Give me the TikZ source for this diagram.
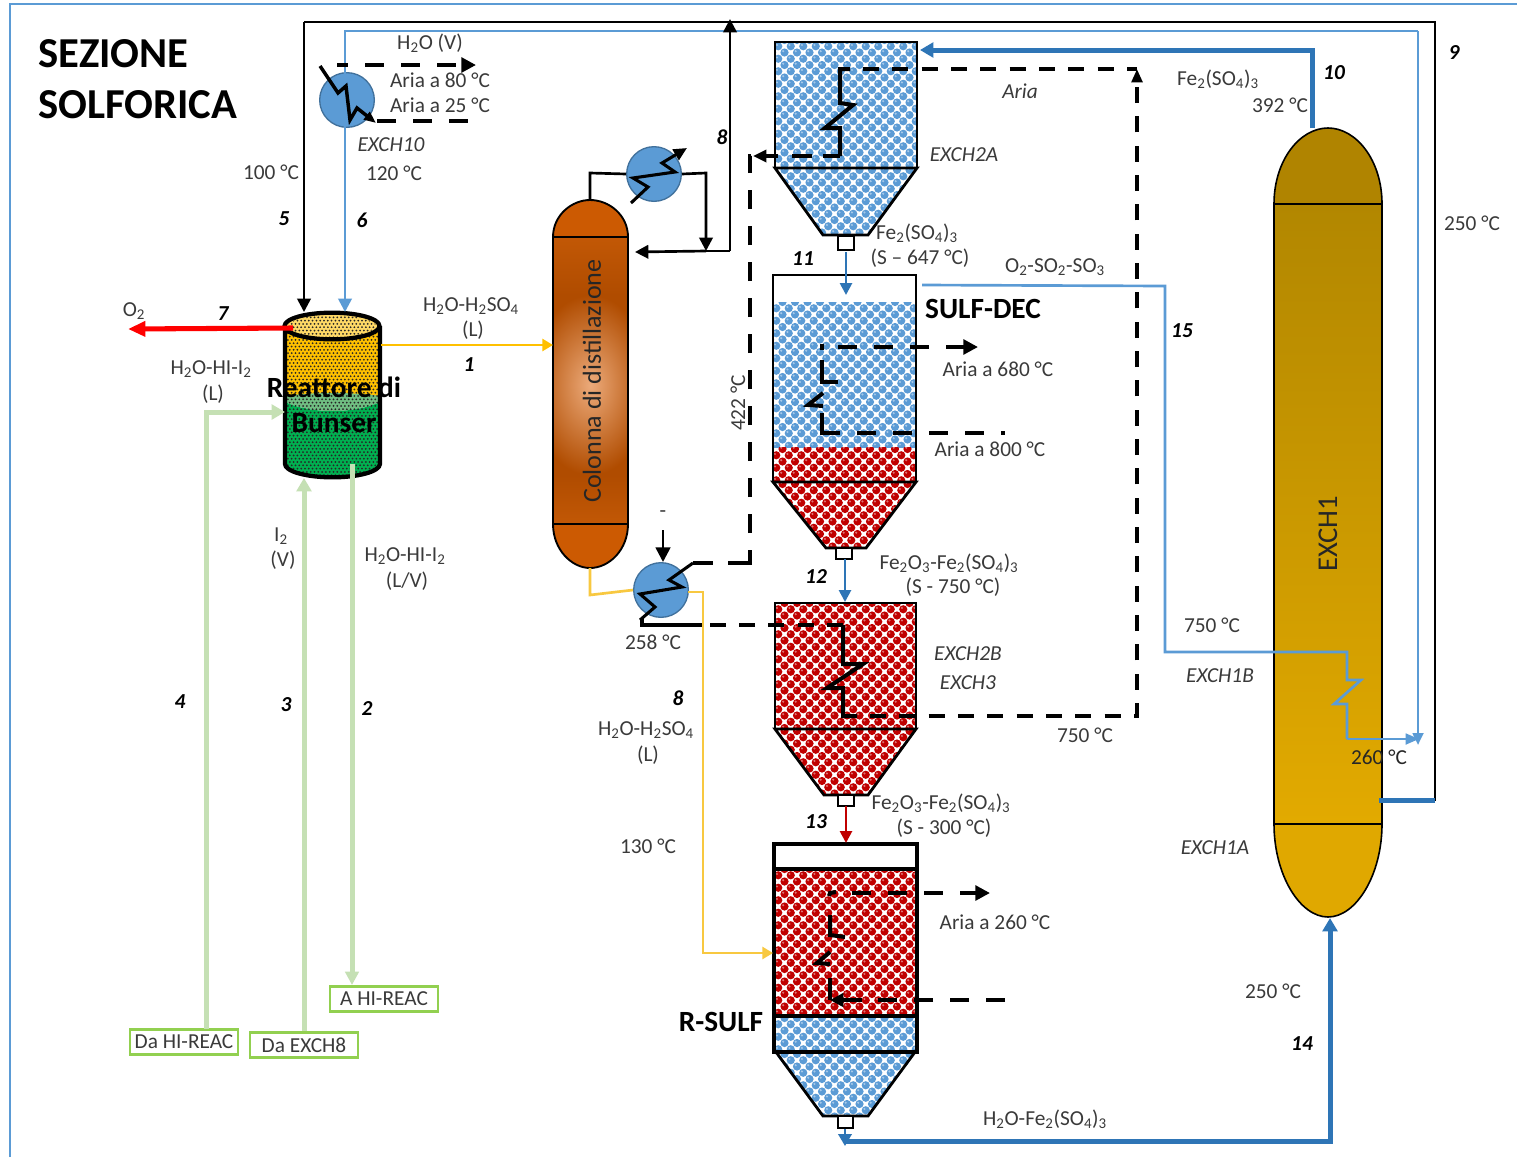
\documentclass[tikz,border=0pt]{standalone}
\usepackage{fontspec}
\setmainfont{Carlito}
\usetikzlibrary{arrows.meta,calc}
\definecolor{bub}{HTML}{5B9BD5}
\definecolor{bubdark}{HTML}{2E75B6}
\definecolor{bubred}{HTML}{C00000}
\definecolor{hxedge}{HTML}{41719C}
\definecolor{txt}{HTML}{3A3A3A}
\definecolor{lgreen}{HTML}{C5E0B4}
\definecolor{bgreen}{HTML}{92D050}
\definecolor{ygold}{HTML}{FFC000}
\definecolor{ysoft}{HTML}{F8C840}
\definecolor{exA}{RGB}{176,132,0}
\definecolor{exB}{RGB}{178,135,0}
\definecolor{exC}{RGB}{226,170,0}
\definecolor{exD}{RGB}{224,168,0}
\definecolor{colA}{RGB}{204,90,2}
\definecolor{colB}{RGB}{194,88,6}
\definecolor{colC}{RGB}{236,170,122}
\definecolor{colD}{RGB}{176,76,0}
\definecolor{gband}{RGB}{112,190,130}
\definecolor{gmain}{RGB}{0,176,80}
\definecolor{ytop}{RGB}{255,217,102}
\newcommand\sbs[1]{\textsubscript{#1}}
% bubble pattern: {clip path}{x0}{y0}{x1}{y1}{colour}
\newcommand\bubblefill[6]{%
  \begin{scope}
    \clip #1;
    \fill[white] (#2,#3) rectangle (#4,#5);
    \foreach \r in {0,...,40}{
      \pgfmathsetmacro\yy{#3+\r*6.25}
      \pgfmathsetmacro\off{mod(\r,2)*6.25}
      \ifdim\yy pt<#5 pt\relax
      \foreach \c in {0,...,15}{
        \pgfmathsetmacro\xx{#2+\c*12.5+\off}
        \ifdim\xx pt<#4 pt\relax
        \fill[#6] (\xx,\yy) circle (4.1);
        \fill[#6!55!white] (\xx-1.3,\yy-1.3) circle (1.2);
        \fi
      }
      \fi
    }
  \end{scope}}
% black dots
\newcommand\blackdots[5]{%
  \begin{scope}
    \clip #1;
    \foreach \r in {0,...,50}{
      \pgfmathsetmacro\yy{#3+\r*3.3}
      \pgfmathsetmacro\off{mod(\r,2)*1.9}
      \ifdim\yy pt<#5 pt\relax
      \foreach \c in {0,...,28}{
        \pgfmathsetmacro\xx{#2+\c*3.8+\off}
        \fill[black!85] (\xx,\yy) circle (1);
      }
      \fi
    }
  \end{scope}}
\tikzset{
  x=.75pt,y=-.75pt,
  lbl/.style={text=txt,font=\fontsize{16}{18}\selectfont,inner sep=0pt,align=center},
  itl/.style={lbl,font=\fontsize{16}{18}\selectfont\itshape},
  num/.style={text=black,inner sep=0pt,font=\fontsize{16}{18}\selectfont\bfseries\itshape},
  head/.style={text=black,inner sep=0pt,font=\fontsize{22}{24}\selectfont\bfseries},
  title/.style={text=black,inner sep=0pt,anchor=west,font=\fontsize{32}{34}\selectfont\bfseries},
  vessel/.style={draw=black,line width=2.1pt,line join=miter},
  vesselthick/.style={draw=black,line width=3.6pt,line join=miter},
  outlet/.style={draw=black,fill=white,line width=1.9pt},
  hx/.style={circle,draw=hxedge,line width=1pt,fill=bub,minimum size=41pt,inner sep=0pt},
  blackline/.style={draw=black,line width=2pt,-{Triangle[length=10pt,width=10pt]}},
  blackplain/.style={draw=black,line width=2pt},
  airline/.style={draw=black,line width=3pt,dash pattern=on 14.5pt off 12.5pt},
  airshort/.style={draw=black,line width=3pt,dash pattern=on 12pt off 10pt},
  coil/.style={draw=black,line width=3pt,line join=miter},
  coilthin/.style={draw=black,line width=2.3pt,line join=miter},
  lightblue/.style={draw=bub,line width=2pt},
  boldblue/.style={draw=bubdark,line width=3.75pt},
  midblue/.style={draw=bubdark,line width=2pt},
  greenline/.style={draw=lgreen,line width=3.75pt},
  greenbox/.style={draw=bgreen,line width=1.8pt,fill=white,text=txt,minimum width=81pt,minimum height=19pt,inner sep=0pt,font=\fontsize{16}{18}\selectfont},
}
\begin{document}
\begin{tikzpicture}
\useasboundingbox (0,0) rectangle (1517,1157);
\fill[white] (0,0) rectangle (1517,1157);
% outer frame
\draw[draw=bub,line width=1.6pt] (10,1157) -- (10,4) -- (1517,4);

% ---- named ports ----
\coordinate (reacT5) at (304,312);
\coordinate (reacT6) at (345,312);
\coordinate (top5) at (304,22);
\coordinate (top9) at (1435,22);
\coordinate (out9) at (1379,800);
\coordinate (top6) at (345,31);
\coordinate (top9b) at (1418,31);
\coordinate (end15) at (1419,739);

% ---- EXCH1 ----
\fill[exA] (1274,204) .. controls (1274,160) and (1300,128) .. (1328,128) .. controls (1356,128) and (1382,160) .. (1382,204) -- cycle;
\shade[top color=exB,bottom color=exC] (1274,204) rectangle (1382,824);
\fill[exD] (1274,824) .. controls (1274,875) and (1300,917) .. (1328,917) .. controls (1356,917) and (1382,875) .. (1382,824) -- cycle;
\draw[black,line width=1.2pt] (1274,204) .. controls (1274,160) and (1300,128) .. (1328,128) .. controls (1356,128) and (1382,160) .. (1382,204) -- (1382,824) .. controls (1382,875) and (1356,917) .. (1328,917) .. controls (1300,917) and (1274,875) .. (1274,824) -- cycle;
\draw[black,line width=1.2pt] (1274,204) -- (1382,204) (1274,824) -- (1382,824);
\node[rotate=90,text=black!85,inner sep=0pt,font=\fontsize{21.5}{24}\selectfont] (exch1lab) at (1328,534) {EXCH1};

% ---- Column ----
\fill[colA] (553,237) .. controls (553,215) and (572,200) .. (590,200) .. controls (609,200) and (628,215) .. (628,237) -- cycle;
\fill[colD] (553,290) rectangle (628,480);
\shade[top color=colB,bottom color=colD] (553,237) rectangle (628,295);
\begin{scope}
  \clip (553,295) rectangle (628,475);
  \shade[inner color=colC,outer color=colD] (530,295) rectangle (651,475);
\end{scope}
\shade[top color=colD,bottom color=colB] (553,475) rectangle (628,524);
\fill[colA] (553,524) .. controls (553,550) and (572,568) .. (590,568) .. controls (609,568) and (628,550) .. (628,524) -- cycle;
\draw[black,line width=1.4pt] (553,237) .. controls (553,215) and (572,200) .. (590,200) .. controls (609,200) and (628,215) .. (628,237) -- (628,524) .. controls (628,550) and (609,568) .. (590,568) .. controls (572,568) and (553,550) .. (553,524) -- cycle;
\draw[black,line width=1.2pt] (553,237) -- (628,237) (553,524) -- (628,524);
\node[rotate=90,text=black!85,inner sep=0pt,font=\fontsize{19.5}{22}\selectfont] (collab) at (592,381) {Colonna di distillazione};

% ---- Bunsen reactor ----
\fill[ygold] (285,326) rectangle (380,400);
\fill[gband] (285,396) .. controls (310,392) and (355,392) .. (380,396) -- (380,402) .. controls (355,414) and (310,414) .. (285,402) -- cycle;
\fill[gmain] (285,402) .. controls (310,414) and (355,414) .. (380,402) -- (380,464) -- (285,464) -- cycle;
\fill[gmain] (332,464) ellipse [x radius=35.6pt,y radius=10pt];
\blackdots{(285,326) -- (285,464) arc [start angle=180,end angle=360,x radius=35.6pt,y radius=10pt] -- (380,326) -- cycle}{286}{330}{380}{476}
\fill[ytop] (332,326) ellipse [x radius=35.6pt,y radius=9.5pt];
\blackdots{(332,326) ellipse [x radius=33pt,y radius=8pt]}{286}{314}{380}{340}
\draw[black,line width=3.2pt] (285,326) -- (285,464) arc [start angle=180,end angle=360,x radius=35.6pt,y radius=10pt] -- (380,326);
\draw[black,line width=3.2pt] (332,326) ellipse [x radius=35.6pt,y radius=10pt];

% ---- EXCH2A ----
\bubblefill{(775,42) rectangle (917,168)}{772}{40}{920}{170}{bub}
\bubblefill{(775,168) -- (917,168) -- (868,235) -- (823,235) -- cycle}{772}{170}{920}{240}{bub}
\path[vessel] (775,42) rectangle (917,168);
\path[vessel] (775,168) -- (917,168) -- (868,235) -- (823,235) -- cycle;
\path[outlet] (838,236) rectangle (854,250);
% ---- SULF-DEC ----
\bubblefill{(773,302) rectangle (916,447)}{770}{302}{920}{447}{bub}
\bubblefill{(773,447) rectangle (916,482)}{770}{449}{920}{482}{bubred}
\bubblefill{(773,482) -- (916,482) -- (866,548) -- (826,548) -- cycle}{770}{484}{920}{550}{bubred}
\path[vessel] (773,275) rectangle (916,482);
\path[vessel] (773,482) -- (916,482) -- (866,548) -- (826,548) -- cycle;
\path[outlet] (836,548) rectangle (852,559);
% ---- EXCH2B ----
\bubblefill{(775,603) rectangle (916,729)}{772}{603}{920}{729}{bubred}
\bubblefill{(775,729) -- (916,729) -- (868,795) -- (824,795) -- cycle}{772}{731}{920}{798}{bubred}
\path[vessel] (775,603) rectangle (916,729);
\path[vessel] (775,729) -- (916,729) -- (868,795) -- (824,795) -- cycle;
\path[outlet] (838,795) rectangle (854,806);
% ---- R-SULF ----
\bubblefill{(774,869) rectangle (917,1016)}{772}{869}{920}{1016}{bubred}
\bubblefill{(774,1016) rectangle (917,1052)}{772}{1018}{920}{1052}{bub}
\bubblefill{(774,1052) -- (917,1052) -- (868,1116) -- (823,1116) -- cycle}{772}{1054}{920}{1120}{bub}
\path[vesselthick] (774,844) rectangle (917,1052);
\draw[black,line width=3pt] (774,869) -- (917,869);
\draw[black,line width=3pt] (774,1016) -- (917,1016);
\path[vessel] (776,1052) -- (915,1052) -- (868,1116) -- (823,1116) -- cycle;
\path[outlet] (838,1116) rectangle (853,1128);

% ---- Heat exchangers ----
\node[hx] (hx10) at (347,100) {};
\node[hx] (hxtop) at (654,174) {};
\node[hx] (hxbot) at (661,590) {};

% ---- Black utility lines 5, 9 ----
\draw[blackplain] (out9) -- (out9 -| top9) -- (top9) -- (top5);
\draw[blackline] (top5) -- (reacT5);
\draw[boldblue] (out9) -- (out9 -| top9);
% ---- Blue line 6 ----
\draw[lightblue,-{Triangle[length=10pt,width=10pt]}] (top9b) -- (top6) -- (reacT6);
\draw[lightblue,-{Triangle[length=9pt,width=8pt]}] (top9b) -- (1418,745);

% ---- column overhead 8 ----
\coordinate (junc8) at (730,251);
\draw[blackplain] (590,200) -- (590,173) -- (hxtop.west);
\draw[blackline] (hxtop.east) -- (706,173) -- (706,251);
\draw[blackline] (706,251) -- (635,252);
\draw[blackplain] (706,251) -- (junc8);
\draw[blackline] (junc8) -- (730,19);
\draw[coilthin,-{Triangle[length=10pt,width=9pt]}] (631,203) -- (648,187) -- (633,178) -- (675,172) -- (662,163) -- (687,148);

% ---- EXCH10 ----
\draw[airline,dash phase=6pt,-{Triangle[length=11pt,width=11pt]}] (337,65) -- (476,65);
\draw[airline] (377,121) -- (470,121);
\draw[coil,line width=2.6pt,-{Triangle[length=9pt,width=7pt]}] (320,66) -- (338,93) -- (346,86) -- (350,120) -- (357,108) -- (376,123);

% ---- bottom exchanger and air loop ----
\draw[blackline,-{Triangle[length=11pt,width=11pt]}] (663,530) -- (663,562);
\draw[coilthin] (693,563) -- (669,580) -- (682,587) -- (640,594) -- (655,607) -- (640,620);
\draw[coil] (693,563) -- (713,563);
\draw[coil] (728,563) -- (750,563) -- (750,550);
\draw[airline] (750,533) -- (750,156) -- (751,156);
\draw[coil] (840,156) -- (823,156);
\draw[coil] (812,156) -- (792,156);
\draw[coil,-{Triangle[length=10pt,width=9pt]}] (778,156) -- (753,156);
\draw[coil] (840,156) -- (840,128) -- (825,128) -- (853,105) -- (840,103) -- (840,69) -- (850,69);
\draw[airshort] (863,69) -- (1137,69);
\draw[airshort,-{Triangle[length=10pt,width=8pt]}] (870,716) -- (1137,716) -- (1137,69);
\draw[airshort] (843,625) -- (703,625);
\draw[coil] (642,618) -- (642,625) -- (703,625);
\draw[coil] (843,625) -- (843,664) -- (863,664) -- (827,688) -- (843,688) -- (843,716) -- (857,716);

% ---- SULF-DEC coil ----
\draw[coil] (822,344) -- (822,350);
\draw[airline,-{Triangle[length=11pt,width=11pt]}] (838,347) -- (978,347);
\draw[coil] (822,360) -- (822,382) -- (838,382);
\draw[coil] (823,393) -- (808,405) -- (823,406);
\draw[coil] (822,413) -- (822,433) -- (840,433);
\draw[airline] (857,433) -- (1005,433);

% ---- R-SULF coil ----
\draw[coil] (829,896) -- (830,893) -- (836,892);
\draw[airline,-{Triangle[length=11pt,width=11pt]}] (852,893) -- (990,893);
\draw[coil] (830,915) -- (830,935) -- (845,937);
\draw[coil] (830,952) -- (817,963) -- (830,964);
\draw[coil] (830,978) -- (830,1000);
\draw[coil,-{Triangle[length=10pt,width=10pt]}] (862,1000) -- (830,1000);
\draw[airline] (1005,1000) -- (877,1000);

% ---- solids lines ----
\draw[midblue,-{Triangle[length=9pt,width=9pt]}] (846,252) -- (846,295);
\draw[midblue,-{Triangle[length=9pt,width=9pt]}] (845,559) -- (845,602);
\draw[draw=bubred,line width=2pt,-{Triangle[length=9pt,width=9pt]}] (846,806) -- (846,843);
\draw[boldblue,-{Triangle[length=10pt,width=11pt]}] (1312,128) -- (1312,50) -- (920,50);
\draw[boldblue,-{Triangle[length=10pt,width=11pt]}] (845,1141) -- (1330,1141) -- (1330,918);
\draw[midblue,-{Triangle[length=9pt,width=10pt]}] (845,1129) -- (845,1146);

% ---- 15 ----
\draw[lightblue,line join=miter] (922,285) -- (1165,286) -- (1165,652) -- (1347,652) -- (1347,680) -- (1361,680) -- (1334,704) -- (1347,704) -- (1347,739);
\draw[lightblue,-{Triangle[length=10pt,width=8pt]}] (1347,739) -- (end15);

% ---- yellow ----
\draw[draw=ygold,line width=2pt,-{Triangle[length=8pt,width=9pt]}] (381,345) -- (553,345);
\draw[draw=ysoft,line width=2pt] (590,568) -- (590,595) -- (hxbot.west);
\draw[draw=ysoft,line width=2pt,-{Triangle[length=8pt,width=9pt]}] (688,592) -- (703,592) -- (703,953) -- (773,953);

% ---- red 7 ----
\draw[draw=red,line width=3.8pt,-{Triangle[length=13pt,width=11pt]}] (293,328) -- (128,329);

% ---- green ----
\node[greenbox] (daHI) at (184,1042) {Da HI-REAC};
\node[greenbox] (daEX) at (304,1045) {Da EXCH8};
\node[greenbox] (aHI) at (384,999) {A HI-REAC};
\draw[greenline,-{Triangle[length=10pt,width=11pt]}] (206,1029) -- (206,412) -- (285,412);
\draw[greenline,-{Triangle[length=10pt,width=11pt]}] (daEX.north) -- (304,478);
\draw[greenline,-{Triangle[length=10pt,width=10pt]}] (352,464) -- (352,985);

% ---- Text ----
\node[title] (t1) at (38,54) {SEZIONE};
\node[title] (t2) at (38,105) {SOLFORICA};
\node[lbl] (l1) at (430,43) {H\sbs{2}O (V)};
\node[lbl] (l2) at (440,80) {Aria a 80 °C};
\node[lbl] (l3) at (440,105) {Aria a 25 °C};
\node[itl] (l4) at (391,145) {EXCH10};
\node[lbl] (l5) at (394,173) {120 °C};
\node[lbl] (l6) at (271,172) {100 °C};
\node[num] (n5) at (284,219) {5};
\node[num] (n6) at (362,220) {6};
\node[num] (n8a) at (722,137) {8};
\node[lbl] (l7) at (134,311) {O\sbs{2}};
\node[num] (n7) at (223,314) {7};
\node[lbl] (l8) at (211,369) {H\sbs{2}O-HI-I\sbs{2}};
\node[lbl] (l9) at (213,394) {(L)};
\node[head] (r1) at (334,387) {Reattore di};
\node[head] (r2) at (334,423) {Bunser};
\node[lbl] (l10) at (471,306) {H\sbs{2}O-H\sbs{2}SO\sbs{4}};
\node[lbl] (l11) at (473,330) {(L)};
\node[num] (n1) at (469,365) {1};
\node[lbl] (l12) at (281,536) {I\sbs{2}};
\node[lbl] (l13) at (283,560) {(V)};
\node[lbl] (l14) at (405,556) {H\sbs{2}O-HI-I\sbs{2}};
\node[lbl] (l15) at (407,581) {(L/V)};
\node[num] (n4) at (180,702) {4};
\node[num] (n3) at (286,705) {3};
\node[num] (n2) at (367,708) {2};
\node[itl] (l16) at (1020,91) {Aria};
\node[lbl] (l17) at (1218,79) {Fe\sbs{2}(SO\sbs{4})\sbs{3}};
\node[lbl] (l18) at (1280,105) {392 °C};
\node[num] (n10) at (1334,73) {10};
\node[num] (n9) at (1454,53) {9};
\node[lbl] (l19) at (1472,223) {250 °C};
\node[itl] (l20) at (964,155) {EXCH2A};
\node[lbl] (l21) at (917,233) {Fe\sbs{2}(SO\sbs{4})\sbs{3}};
\node[lbl] (l22) at (920,258) {(S – 647 °C)};
\node[num] (n11) at (803,259) {11};
\node[lbl] (l23) at (1055,267) {O\sbs{2}-SO\sbs{2}-SO\sbs{3}};
\node[head] (h1) at (983,309) {SULF-DEC};
\node[num] (n15) at (1182,331) {15};
\node[lbl] (l24) at (998,369) {Aria a 680 °C};
\node[lbl] (l25) at (990,449) {Aria a 800 °C};
\node[lbl,rotate=90] (l26) at (738,403) {422 °C};
\node[lbl] (l27) at (663,514) {-};
\node[lbl] (l28) at (949,563) {Fe\sbs{2}O\sbs{3}-Fe\sbs{2}(SO\sbs{4})\sbs{3}};
\node[lbl] (l29) at (953,587) {(S - 750 °C)};
\node[num] (n12) at (816,577) {12};
\node[lbl] (l30) at (1212,625) {750 °C};
\node[itl] (l31) at (1220,676) {EXCH1B};
\node[lbl] (l32) at (653,642) {258 °C};
\node[itl] (l33) at (968,654) {EXCH2B};
\node[itl] (l34) at (968,683) {EXCH3};
\node[num] (n8b) at (678,698) {8};
\node[lbl] (l35) at (646,730) {H\sbs{2}O-H\sbs{2}SO\sbs{4}};
\node[lbl] (l36) at (648,755) {(L)};
\node[lbl] (l37) at (1085,735) {750 °C};
\node[lbl,text=black!85] (l38) at (1379,757) {260 °C};
\node[lbl] (l39) at (648,846) {130 °C};
\node[num] (n13) at (816,822) {13};
\node[lbl] (l40) at (941,803) {Fe\sbs{2}O\sbs{3}-Fe\sbs{2}(SO\sbs{4})\sbs{3}};
\node[lbl] (l41) at (944,828) {(S - 300 °C)};
\node[itl] (l42) at (1215,848) {EXCH1A};
\node[lbl] (l43) at (995,922) {Aria a 260 °C};
\node[head] (h2) at (721,1022) {R-SULF};
\node[lbl] (l44) at (1273,991) {250 °C};
\node[num] (n14) at (1302,1044) {14};
\node[lbl] (l45) at (1045,1119) {H\sbs{2}O-Fe\sbs{2}(SO\sbs{4})\sbs{3}};
\end{tikzpicture}
\end{document}
